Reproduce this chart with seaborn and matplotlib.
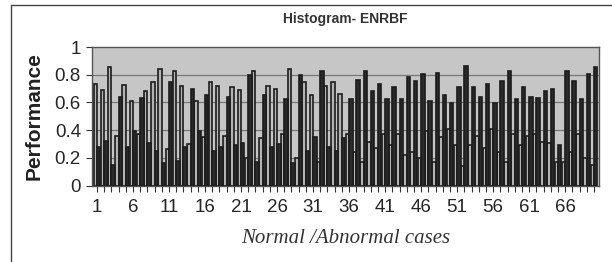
import matplotlib
matplotlib.use("Agg")
import matplotlib.pyplot as plt
from matplotlib.lines import Line2D
import numpy as np
import pandas as pd
import seaborn as sns

sns.set_theme(style="white")
plt.rcParams['font.family'] = ['Liberation Sans', 'DejaVu Sans']

# case numbers 1..70
cases = list(range(1, 71))

# output of the "normal" unit (light bars)
normal_out = [0.73, 0.69, 0.855, 0.36, 0.725, 0.61, 0.37, 0.685, 0.75, 0.84,
              0.26, 0.825, 0.72, 0.30, 0.61, 0.35, 0.75, 0.72, 0.36, 0.71,
              0.69, 0.20, 0.825, 0.345, 0.72, 0.70, 0.375, 0.84, 0.20, 0.745,
              0.65, 0.17, 0.72, 0.745, 0.66, 0.375, 0.24, 0.17, 0.315, 0.27,
              0.375, 0.29, 0.375, 0.22, 0.245, 0.195, 0.39, 0.17, 0.35, 0.405,
              0.29, 0.14, 0.29, 0.36, 0.27, 0.405, 0.245, 0.17, 0.375, 0.29,
              0.36, 0.37, 0.315, 0.305, 0.17, 0.17, 0.245, 0.375, 0.195, 0.145]

# output of the "abnormal" unit (dark bars)
abnormal_out = [0.28, 0.32, 0.15, 0.64, 0.28, 0.39, 0.63, 0.31, 0.25, 0.16,
                0.745, 0.18, 0.28, 0.70, 0.39, 0.65, 0.25, 0.28, 0.64, 0.29,
                0.31, 0.80, 0.17, 0.655, 0.28, 0.30, 0.625, 0.16, 0.80, 0.25,
                0.35, 0.83, 0.28, 0.25, 0.34, 0.625, 0.76, 0.83, 0.685, 0.73,
                0.625, 0.71, 0.625, 0.78, 0.755, 0.805, 0.61, 0.81, 0.65, 0.595,
                0.71, 0.86, 0.71, 0.64, 0.73, 0.595, 0.755, 0.83, 0.625, 0.71,
                0.64, 0.63, 0.685, 0.695, 0.29, 0.83, 0.755, 0.625, 0.805, 0.855]

tick_labels = ['1', '6', '11', '16', '21', '26', '31', '36', '41', '46', '51', '56', '61', '66']
y_ticks = [0, 0.2, 0.4, 0.6, 0.8, 1]
y_labels = ['0', '0.2', '0.4', '0.6', '0.8', '1']

df = pd.DataFrame({
    'case': cases * 2,
    'value': normal_out + abnormal_out,
    'unit': ['Normal'] * len(cases) + ['Abnormal'] * len(cases),
})

fig = plt.figure(figsize=(6.12, 2.62), dpi=100)
ax = fig.add_axes([92 / 612, 1 - 185.5 / 262, 507 / 612, 138.5 / 262])
ax.set_facecolor('#c6c6c6')

sns.barplot(data=df, x='case', y='value', hue='unit', hue_order=['Normal', 'Abnormal'],
            palette=['#b4b4b4', '#2a2a2a'], edgecolor='#1c1c1c', linewidth=1.2,
            width=0.95, gap=0, legend=False, ax=ax, zorder=3)

ax.set_ylim(0, 1)
ax.set_xlim(-0.7, 69.7)
ax.set_yticks(y_ticks)
ax.set_yticklabels(y_labels, fontsize=13.5)
ax.set_xticks(range(0, 70, 5))
ax.set_xticklabels(tick_labels, fontsize=13.5)
ax.set_xticks(range(70), minor=True)
ax.tick_params(axis='x', which='both', direction='out', length=4, width=0.8,
               color='#333333', bottom=True, pad=6)
ax.tick_params(axis='y', direction='out', length=4, width=0.8, color='#333333', left=True, pad=4)

for v in [0.2, 0.4, 0.6, 0.8]:
    ax.axhline(v, color='#777777', lw=0.9, zorder=1)

for s in ax.spines.values():
    s.set_color('#555555')
    s.set_linewidth(1.0)

ax.set_title('Histogram- ENRBF', fontsize=10, fontweight='bold', color='#333333', pad=17)
ax.set_ylabel('Performance', fontsize=15, fontweight='bold', color='#222222', labelpad=8)
ax.set_xlabel('Normal /Abnormal cases', fontsize=15, style='italic',
              family=['Liberation Serif', 'DejaVu Serif'], color='#333333', labelpad=9)

# outer frame of the original figure
fig.add_artist(Line2D([11 / 612, 11 / 612], [0, 1 - 5 / 262], color='#444444', lw=1))
fig.add_artist(Line2D([11 / 612, 1], [1 - 5 / 262, 1 - 5 / 262], color='#444444', lw=1))

fig.savefig('out.png', dpi=100)
